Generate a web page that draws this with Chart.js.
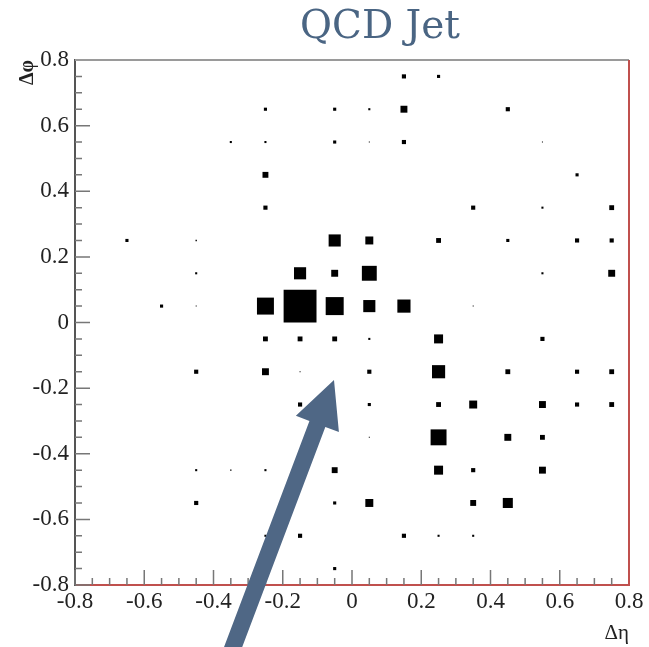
<!DOCTYPE html>
<html>
<head>
<meta charset="utf-8">
<script src="https://cdn.jsdelivr.net/npm/chart.js@4"></script>
<style>
  body { margin: 0; background: #fff; }
</style>
</head>
<body>
<canvas id="jetChart" width="649" height="647"></canvas>
<script>
// DATA: box histogram of the jet (bin centres and content)
const titleText = 'QCD Jet';
const binWidth = 0.1;
const zMax = 100;
const tickValues = [-0.8, -0.6, -0.4, -0.2, 0, 0.2, 0.4, 0.6, 0.8];

const deta = [
    0.15, 0.25,
    -0.25, -0.05, 0.05, 0.15, 0.45,
    -0.35, -0.25, -0.05, 0.05, 0.15, 0.55,
    -0.25, 0.65,
    -0.25, 0.35, 0.55, 0.75,
    -0.65, -0.45, -0.05, 0.05, 0.25, 0.45, 0.65, 0.75,
    -0.45, -0.15, -0.05, 0.05, 0.55, 0.75,
    -0.55, -0.45, -0.25, -0.15, -0.05, 0.05, 0.15, 0.35,
    -0.25, -0.15, -0.05, 0.05, 0.25, 0.55,
    -0.45, -0.25, -0.15, 0.05, 0.25, 0.45, 0.65, 0.75,
    -0.15, 0.05, 0.25, 0.35, 0.55, 0.65, 0.75,
    0.05, 0.25, 0.45, 0.55,
    -0.45, -0.35, -0.25, -0.05, 0.25, 0.35, 0.55,
    -0.45, -0.05, 0.05, 0.35, 0.45,
    -0.25, -0.15, 0.15, 0.25, 0.35,
    -0.05
];
const dphi = [
    0.75, 0.75,
    0.65, 0.65, 0.65, 0.65, 0.65,
    0.55, 0.55, 0.55, 0.55, 0.55, 0.55,
    0.45, 0.45,
    0.35, 0.35, 0.35, 0.35,
    0.25, 0.25, 0.25, 0.25, 0.25, 0.25, 0.25, 0.25,
    0.15, 0.15, 0.15, 0.15, 0.15, 0.15,
    0.05, 0.05, 0.05, 0.05, 0.05, 0.05, 0.05, 0.05,
    -0.05, -0.05, -0.05, -0.05, -0.05, -0.05,
    -0.15, -0.15, -0.15, -0.15, -0.15, -0.15, -0.15, -0.15,
    -0.25, -0.25, -0.25, -0.25, -0.25, -0.25, -0.25,
    -0.35, -0.35, -0.35, -0.35,
    -0.45, -0.45, -0.45, -0.45, -0.45, -0.45, -0.45,
    -0.55, -0.55, -0.55, -0.55, -0.55,
    -0.65, -0.65, -0.65, -0.65, -0.65,
    -0.75
];
const energy = [
    12, 9,
    9, 9, 6, 20, 12,
    6, 6, 9, 3, 12, 3,
    17, 9,
    12, 12, 6, 14,
    9, 4, 35, 23, 14, 9, 12, 12,
    6, 35, 20, 43, 6, 20,
    9, 3, 49, 95, 52, 35, 38, 3,
    14, 14, 14, 6, 26, 12,
    12, 20, 3, 12, 38, 14, 12, 14,
    12, 9, 14, 23, 20, 12, 14,
    3, 46, 20, 14,
    6, 4, 6, 17, 26, 12, 20,
    12, 9, 23, 17, 29,
    6, 12, 12, 6, 6,
    9
];

// arrow overlay (tail -> tip, in data units)
const arrowTail = { x: -0.358, y: -1.03 };
const arrowTip = { x: -0.052, y: -0.175 };

const points = deta.map((x, i) => ({ x: x, y: dphi[i], v: energy[i] }));

// FUNCTIONS
function binPixels(chart) {
    const xs = chart.scales.x;
    return Math.abs(xs.getPixelForValue(binWidth) - xs.getPixelForValue(0));
}

function boxRadius(ctx) {
    if (!ctx.raw) return 0;
    const side = ctx.raw.v / zMax * binPixels(ctx.chart);
    return side / Math.SQRT2;
}

// PLUGINS
const frameTicks = {
    id: 'frameTicks',
    beforeDatasetsDraw(chart) {
        const { ctx, chartArea: a, scales: { x, y } } = chart;
        ctx.save();
        ctx.strokeStyle = '#777';
        ctx.lineWidth = 1.5;
        for (let k = -16; k <= 16; k++) {
            const v = k * 0.05;
            const major = k % 4 === 0;
            const len = major ? 15 : 7;
            const px = x.getPixelForValue(v);
            const py = y.getPixelForValue(v);
            ctx.beginPath();
            ctx.moveTo(px, a.bottom);
            ctx.lineTo(px, a.bottom - len);
            ctx.moveTo(a.left, py);
            ctx.lineTo(a.left + len, py);
            ctx.stroke();
        }
        // top and right frame
        ctx.lineWidth = 2;
        ctx.strokeStyle = '#9a9a9a';
        ctx.beginPath();
        ctx.moveTo(a.left, a.top);
        ctx.lineTo(a.right, a.top);
        ctx.stroke();
        ctx.strokeStyle = '#c0504d';
        ctx.beginPath();
        ctx.moveTo(a.right, a.top);
        ctx.lineTo(a.right, a.bottom);
        ctx.stroke();
        ctx.restore();
    }
};

const overlay = {
    id: 'overlay',
    afterDraw(chart) {
        const { ctx, scales: { x, y } } = chart;
        ctx.save();
        // title
        ctx.font = '39px "DejaVu Serif"';
        ctx.fillStyle = '#4a6583';
        ctx.textAlign = 'center';
        ctx.textBaseline = 'alphabetic';
        ctx.fillText(titleText, 380, 38);

        // arrow
        const tx = x.getPixelForValue(arrowTail.x), ty = y.getPixelForValue(arrowTail.y);
        const hx = x.getPixelForValue(arrowTip.x), hy = y.getPixelForValue(arrowTip.y);
        const len = Math.hypot(tx - hx, ty - hy);
        const ux = (tx - hx) / len, uy = (ty - hy) / len;
        const nx = -uy, ny = ux;
        const headLen = 47, headHalf = 23, shaftHalf = 8.5;
        const bx = hx + ux * headLen, by = hy + uy * headLen;
        ctx.fillStyle = '#4f6785';
        ctx.beginPath();
        ctx.moveTo(hx, hy);
        ctx.lineTo(bx + nx * headHalf, by + ny * headHalf);
        ctx.lineTo(bx + nx * shaftHalf, by + ny * shaftHalf);
        ctx.lineTo(tx + nx * shaftHalf, ty + ny * shaftHalf);
        ctx.lineTo(tx - nx * shaftHalf, ty - ny * shaftHalf);
        ctx.lineTo(bx - nx * shaftHalf, by - ny * shaftHalf);
        ctx.lineTo(bx - nx * headHalf, by - ny * headHalf);
        ctx.closePath();
        ctx.fill();
        ctx.restore();
    }
};

// CHART CREATION
const serifFamily = "'Liberation Serif', 'Times New Roman', Times, serif";
const labelFont = { family: serifFamily, size: 23 };

new Chart(document.getElementById('jetChart'), {
    type: 'scatter',
    data: {
        datasets: [{
            data: points,
            pointStyle: 'rect',
            backgroundColor: '#000',
            borderWidth: 0,
            pointRadius: boxRadius,
            pointHoverRadius: boxRadius
        }]
    },
    options: {
        responsive: false,
        animation: false,
        events: [],
        layout: { padding: { top: 60, right: 20, left: 0, bottom: 0 } },
        plugins: {
            legend: { display: false },
            tooltip: { enabled: false }
        },
        scales: {
            x: {
                type: 'linear',
                min: -0.8,
                max: 0.8,
                afterBuildTicks: s => { s.ticks = tickValues.map(v => ({ value: v })); },
                afterFit: s => { s.height = 62; },
                grid: { drawOnChartArea: false, drawTicks: false },
                border: { color: '#c0504d', width: 2 },
                ticks: {
                    padding: 3,
                    color: '#222',
                    font: labelFont,
                    maxRotation: 0,
                    autoSkip: false,
                    callback: v => String(Math.round(v * 10) / 10)
                },
                title: {
                    display: true,
                    text: 'Δη',
                    align: 'end',
                    color: '#222',
                    font: { family: serifFamily, size: 21 },
                    padding: { top: 0, bottom: 1 }
                }
            },
            y: {
                type: 'linear',
                min: -0.8,
                max: 0.8,
                afterBuildTicks: s => { s.ticks = tickValues.map(v => ({ value: v })); },
                afterFit: s => { s.width = 75; },
                grid: { drawOnChartArea: false, drawTicks: false },
                border: { color: '#555', width: 2 },
                ticks: {
                    padding: 6,
                    color: '#222',
                    font: labelFont,
                    autoSkip: false,
                    callback: v => String(Math.round(v * 10) / 10)
                },
                title: {
                    display: true,
                    text: 'Δφ',
                    align: 'end',
                    color: '#222',
                    font: { family: serifFamily, size: 20, weight: 'bold' },
                    padding: { top: 16, bottom: 0 }
                }
            }
        }
    },
    plugins: [frameTicks, overlay]
});
</script>
</body>
</html>
